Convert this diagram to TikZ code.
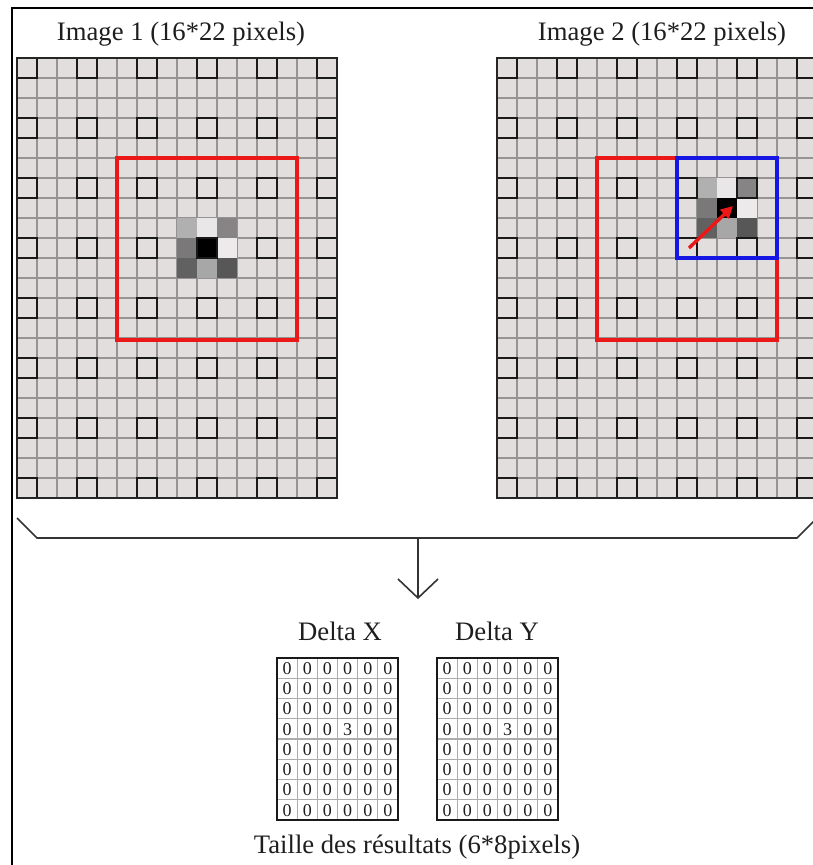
\documentclass[tikz,border=0pt]{standalone}
\usepackage{fontspec}
\setmainfont{Liberation Serif}
\usetikzlibrary{arrows.meta}
\definecolor{cellfill}{RGB}{226,222,222}
\definecolor{gridline}{RGB}{150,147,147}
\definecolor{myred}{RGB}{236,24,24}
\definecolor{myblue}{RGB}{22,22,228}
\definecolor{txt}{RGB}{30,30,30}
\definecolor{pA}{RGB}{176,176,176}
\definecolor{pB}{RGB}{233,231,231}
\definecolor{pC}{RGB}{134,132,132}
\definecolor{pD}{RGB}{122,120,120}
\definecolor{pE}{RGB}{236,234,234}
\definecolor{pF}{RGB}{98,97,97}
\definecolor{pG}{RGB}{168,167,167}
\definecolor{pH}{RGB}{88,87,87}
\newcommand{\mygrid}{%
  \fill[cellfill] (0,0) rectangle (320,440);
  \foreach \i in {1,...,15} \draw[gline] (\i*20,0) -- (\i*20,440);
  \foreach \j in {1,...,21} \draw[gline] (0,\j*20) -- (320,\j*20);
}
\newcommand{\mypatch}[2]{%
  \begin{scope}[shift={(#1,#2)}]
    \fill[pA] (0,0) rectangle ++(20,20);
    \fill[pB] (20,0) rectangle ++(20,20);
    \fill[pC] (40,0) rectangle ++(20,20);
    \fill[pD] (0,20) rectangle ++(20,20);
    \fill[black] (20,20) rectangle ++(20,20);
    \fill[pE] (40,20) rectangle ++(20,20);
    \fill[pF] (0,40) rectangle ++(20,20);
    \fill[pG] (20,40) rectangle ++(20,20);
    \fill[pH] (40,40) rectangle ++(20,20);
  \end{scope}}
\newcommand{\mysquares}{%
  \foreach \i in {0,3,...,15} \foreach \j in {0,3,...,21}
    \draw[sqr] (\i*20,\j*20) rectangle ++(20,20);
  \draw[gborder] (0,0) rectangle (320,440);
}
\newcommand{\mytable}[1]{%
  \foreach \r in {1,...,7} \draw[tline] (0,\r*20.25) -- (121,\r*20.25);
  \foreach \c in {1,...,5} \draw[tline] (\c*20.17,0) -- (\c*20.17,162);
  \foreach \r in {0,...,7} \foreach \c in {0,...,5} {
    \pgfmathtruncatemacro{\v}{(\r==3 && \c==3) ? 3 : 0}
    \node[digit] (#1-\r-\c) at (\c*20.17+10.08,\r*20.25+10.4) {\v};
  }
  \draw[tborder] (0,0) rectangle (121,162);
}
\begin{document}
\begin{tikzpicture}[x=0.75pt,y=-0.75pt,
  gline/.style={gridline,line width=0.95pt},
  sqr/.style={black!90,line width=1.65pt},
  gborder/.style={black!85,line width=1.8pt},
  redbox/.style={myred,line width=2.6pt},
  bluebox/.style={myblue,line width=2.6pt},
  lbl/.style={txt,font=\fontsize{20}{24}\selectfont,anchor=base,inner sep=0pt},
  digit/.style={txt,font=\fontsize{13.5}{15}\selectfont,inner sep=0pt},
  tline/.style={gray!65,line width=0.8pt},
  tborder/.style={black!90,line width=1.5pt},
  connector/.style={black!80,line width=1.2pt}]
\useasboundingbox (0,0) rectangle (813,865);
\fill[white] (0,0) rectangle (813,865);
% frame
\draw[black,line width=1.4pt] (12,865) -- (12,8) -- (813,8);
% titles
\node[lbl] (title1) at (181,40) {Image 1 (16*22 pixels)};
\node[lbl] (title2) at (662,40) {Image 2 (16*22 pixels)};
% image 1
\begin{scope}[shift={(17,58)}]
  \mygrid
  \mypatch{160}{160}
  \mysquares
  \draw[redbox] (100,100) rectangle (280,282);
\end{scope}
% image 2
\begin{scope}[shift={(497,58)}]
  \mygrid
  \mypatch{200}{120}
  \mysquares
  \draw[redbox] (180,100) -- (100,100) -- (100,282) -- (280,282) -- (280,200);
  \draw[bluebox] (180,100) rectangle (280,200);
  \coordinate (mvfrom) at (192,190);
  \coordinate (mvto) at (236,148);
  \draw[myred,line width=2.6pt,-{Triangle[length=9pt,width=9pt]}] (mvfrom) -- (mvto);
\end{scope}
% bracket and arrow
\coordinate (bl) at (17,518);
\coordinate (br) at (818,517);
\coordinate (brk) at (418,538);
\coordinate (tip) at (418,598);
\draw[connector] (bl) -- (37,538) -- (797,538) -- (br);
\draw[connector] (brk) -- (tip);
\draw[connector] (tip) ++(-20,-19) -- (tip) -- ++(20,-19);
% result tables
\node[lbl] (dxlabel) at (340,640) {Delta X};
\node[lbl] (dylabel) at (497,640) {Delta Y};
\begin{scope}[shift={(277,658)}]
  \mytable{dx}
\end{scope}
\begin{scope}[shift={(437,658)}]
  \mytable{dy}
\end{scope}
\node[lbl] (size) at (417,853) {Taille des résultats (6*8pixels)};
\end{tikzpicture}
\end{document}
